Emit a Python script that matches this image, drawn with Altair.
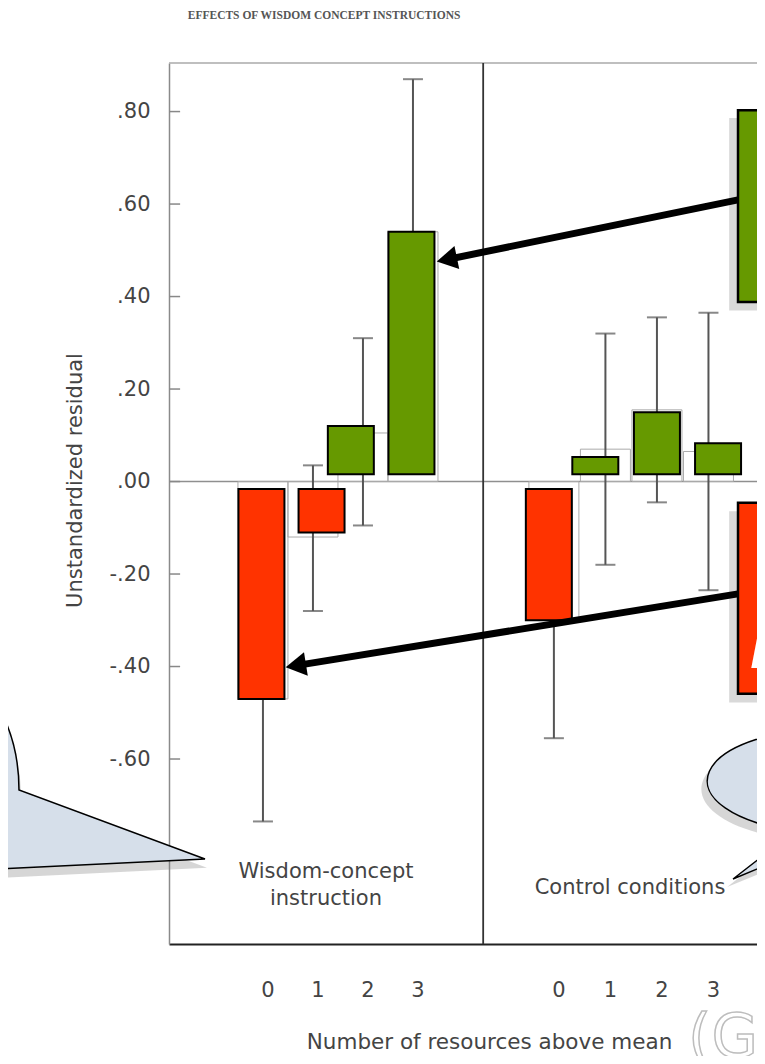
import altair as alt
import pandas as pd

# ---------------- data ----------------
resources = ["0", "1", "2", "3"]
panel_names = ["Wisdom-concept\ninstruction", "Control conditions"]

wisdom_mean = [-0.47, -0.12, 0.105, 0.54]
wisdom_lo = [-0.735, -0.28, -0.095, 0.215]
wisdom_hi = [-0.205, 0.035, 0.31, 0.87]

control_mean = [-0.30, 0.07, 0.155, 0.065]
control_lo = [-0.555, -0.18, -0.045, -0.235]
control_hi = [-0.045, 0.32, 0.355, 0.365]

# coloured overlay bars pasted on the slide
wisdom_highlight = [-0.47, -0.11, 0.12, 0.54]
control_highlight = [-0.30, 0.053, 0.15, 0.083]

y_tick_values = [-0.6, -0.4, -0.2, 0.0, 0.2, 0.4, 0.6, 0.8]

title_text = "EFFECTS OF WISDOM CONCEPT INSTRUCTIONS"
x_title = "Number of resources above mean"
y_title = "Unstandardized residual"

# ---------------- layout constants ----------------
W, H = 588, 881
X_DOMAIN = [0, 11.641]
Y_DOMAIN = [-1.0, 0.905]
PANEL_START = [1.86, 7.62]
PANEL_STEP = [0.99, 1.02]
DIVIDER_X = 6.22
HILITE_NUDGE = [[-0.03, 0.17, -0.24, -0.03], [-0.10, -0.20, 0.0, 0.19]]
BAR_GAP = 0.016
TICKLABEL_Y = -1.115
PANEL_LABEL_X = [3.108, 9.127]
PANEL_LABEL_Y = [-0.857, -0.892]

GREEN = "#669900"
RED = "#ff3300"
TXT = "#444444"
FONT = "DejaVu Sans"

xs = alt.Scale(domain=X_DOMAIN, nice=False, zero=False, padding=0)
ys = alt.Scale(domain=Y_DOMAIN, nice=False, zero=False, padding=0)

x_axis = alt.Axis(labels=False, ticks=False, grid=False, domainColor="#222222",
                  domainWidth=2, title=x_title, titleFont=FONT, titleFontSize=21.5,
                  titleFontWeight="normal", titleColor=TXT, titleX=320, titleY=104,
                  titleAlign="center", titleBaseline="alphabetic")
y_axis = alt.Axis(values=y_tick_values,
                  labelExpr="replace(replace(format(datum.value, '.2f'), '0.', '.'), '\u2212', '-')",
                  labelFont=FONT, labelFontSize=21, labelColor=TXT, labelPadding=19,
                  ticks=False, grid=False, domainColor="#8a8a8a", domainWidth=1.5,
                  title=y_title, titleFont=FONT, titleFontSize=21,
                  titleFontWeight="normal", titleColor=TXT, titleX=-94, titleY=417,
                  titleAngle=270, titleAlign="center", titleBaseline="middle")


def X(f):
    return alt.X(f, type="quantitative", scale=xs, axis=x_axis)


def Y(f):
    return alt.Y(f, type="quantitative", scale=ys, axis=y_axis)


rows = []
for p, (means, los, his, hil) in enumerate([
    (wisdom_mean, wisdom_lo, wisdom_hi, wisdom_highlight),
    (control_mean, control_lo, control_hi, control_highlight),
]):
    for i, r in enumerate(resources):
        pos = PANEL_START[p] + i * PANEL_STEP[p]
        rows.append(dict(
            panel=p, res=r, pos=pos, mean=means[i], lo=los[i], hi=his[i],
            zero=0.0, hval=hil[i], hpos=pos + HILITE_NUDGE[p][i],
            base=BAR_GAP if hil[i] > 0 else -BAR_GAP,
            sign="pos" if hil[i] > 0 else "neg", ty=TICKLABEL_Y,
        ))
bars = pd.DataFrame(rows)

# ---------------- frame ----------------
zero_df = pd.DataFrame({"x0": [X_DOMAIN[0]], "x1": [X_DOMAIN[1]], "y0": [0.0]})
zero_line = alt.Chart(zero_df).mark_rule(color="#8f8f8f", strokeWidth=1.5).encode(
    x=X("x0"), x2="x1", y=Y("y0"))

top_df = pd.DataFrame({"x0": [X_DOMAIN[0]], "x1": [X_DOMAIN[1]], "y0": [Y_DOMAIN[1]]})
top_line = alt.Chart(top_df).mark_rule(color="#aaaaaa", strokeWidth=1.5).encode(
    x=X("x0"), x2="x1", y=Y("y0"))

div_df = pd.DataFrame({"x0": [DIVIDER_X], "y0": [Y_DOMAIN[0]], "y1": [Y_DOMAIN[1]]})
divider = alt.Chart(div_df).mark_rule(color="#333333", strokeWidth=1.8).encode(
    x=X("x0"), y=Y("y0"), y2="y1")

ytick_df = pd.DataFrame({"v": y_tick_values, "x0": 0.0, "x1": 0.22})
yticks = alt.Chart(ytick_df).mark_rule(color="#888888", strokeWidth=1.5).encode(
    x=X("x0"), x2="x1", y=Y("v"))

# ---------------- data marks ----------------
base = alt.Chart(bars)
outlines = base.mark_bar(size=50, fillOpacity=0, stroke="#aaaaaa", strokeWidth=1).encode(
    x=X("pos"), y=Y("mean"), y2="zero")
err = base.mark_rule(color="#555555", strokeWidth=2).encode(
    x=X("pos"), y=Y("lo"), y2="hi")
cap_lo = base.mark_tick(orient="horizontal", size=20, thickness=2, color="#555555").encode(
    x=X("pos"), y=Y("lo"))
cap_hi = base.mark_tick(orient="horizontal", size=20, thickness=2, color="#555555").encode(
    x=X("pos"), y=Y("hi"))
hilite = base.mark_bar(size=46, stroke="black", strokeWidth=2, opacity=1).encode(
    x=X("hpos"), y=Y("hval"), y2="base",
    color=alt.Color("sign:N", scale=alt.Scale(domain=["neg", "pos"], range=[RED, GREEN]),
                    legend=None))

xlab = base.mark_text(font=FONT, fontSize=21, color=TXT, dx=5, baseline="alphabetic").encode(
    x=X("pos"), y=Y("ty"), text="res:N")

panel_df = pd.DataFrame({"name": panel_names, "x": PANEL_LABEL_X, "y": PANEL_LABEL_Y})
panel_text = alt.Chart(panel_df).mark_text(
    font=FONT, fontSize=21, color=TXT, align="center", baseline="alphabetic",
    lineBreak="\n", lineHeight=27).encode(x=X("x"), y=Y("y"), text="name:N")

title_df = pd.DataFrame({"t": [title_text], "x": [3.07], "y": [1.007]})
title = alt.Chart(title_df).mark_text(
    font="Liberation Serif", fontSize=11.5, fontWeight="bold", color="#555555",
    align="center", baseline="middle").encode(x=X("x"), y=Y("y"), text="t:N")

# ---------------- slide annotations ----------------
box_df = pd.DataFrame({
    "x0": [11.265, 11.265], "x1": [12.6, 12.6],
    "y0": [0.803, -0.046], "y1": [0.388, -0.459], "k": ["pos", "neg"]})
shadow_df = pd.DataFrame({
    "x0": [11.09, 11.09], "x1": [12.6, 12.6],
    "y0": [0.786, -0.064], "y1": [0.370, -0.478]})
shadows = alt.Chart(shadow_df).mark_rect(color="#777777", opacity=0.28).encode(
    x=X("x0"), x2="x1", y=Y("y0"), y2="y1")
boxes = alt.Chart(box_df).mark_rect(stroke="black", strokeWidth=2.5, opacity=1).encode(
    x=X("x0"), x2="x1", y=Y("y0"), y2="y1",
    color=alt.Color("k:N", scale=alt.Scale(domain=["neg", "pos"], range=[RED, GREEN]),
                    legend=None))

letter_df = pd.DataFrame({"t": ["L"], "x": [11.50], "y": [-0.403]})
letter = alt.Chart(letter_df).mark_text(
    font=FONT, fontSize=62, fontWeight="bold", fontStyle="italic", color="white",
    align="left", baseline="alphabetic").encode(x=X("x"), y=Y("y"), text="t:N")

arrow_df = pd.DataFrame({
    "arrow": ["g", "g", "r", "r"], "ord": [0, 1, 0, 1],
    "x": [11.265, 5.50, 11.265, 2.51], "y": [0.609, 0.480, -0.243, -0.398]})
arrow_lines = alt.Chart(arrow_df).mark_line(color="black", strokeWidth=7).encode(
    x=X("x"), y=Y("y"), detail="arrow:N", order="ord:Q")
head_df = pd.DataFrame({"x": [5.50, 2.51], "y": [0.480, -0.398], "ang": [258.4, 260.8]})
heads = alt.Chart(head_df).mark_point(
    shape="triangle-up", size=560, filled=True, color="black", opacity=1).encode(
    x=X("x"), y=Y("y"), angle=alt.Angle("ang:Q", scale=None))

LEFT_CALLOUT = ("M -0.6 -1.3 L -0.19 -0.80 Q 0 -0.45 0 0 L 1.86 0.69 "
                "L -0.19 0.79 L -0.6 0.81 Z")
RIGHT_CALLOUT = ("M -0.35 0.498 L -0.97 0.98 L 0.15 0.516 "
                 "A 1.23 0.52 0 1 0 -0.35 0.498 Z")
FILL = "#d6dfea"

lc_sh = alt.Chart(pd.DataFrame({"x": [-2.93], "y": [-0.686]})).mark_point(
    shape=LEFT_CALLOUT, size=40000, filled=True, color="#777777", opacity=0.3,
    strokeWidth=0).encode(x=X("x"), y=Y("y"))
lc = alt.Chart(pd.DataFrame({"x": [-2.970], "y": [-0.667]})).mark_point(
    shape=LEFT_CALLOUT, size=40000, filled=True, fill=FILL, stroke="black",
    strokeWidth=1.5, opacity=1).encode(x=X("x"), y=Y("y"))
rc_sh = alt.Chart(pd.DataFrame({"x": [12.97], "y": [-0.665]})).mark_point(
    shape=RIGHT_CALLOUT, size=40000, filled=True, color="#777777", opacity=0.3,
    strokeWidth=0).encode(x=X("x"), y=Y("y"))
rc = alt.Chart(pd.DataFrame({"x": [13.087], "y": [-0.6475]})).mark_point(
    shape=RIGHT_CALLOUT, size=40000, filled=True, fill=FILL, stroke="black",
    strokeWidth=1.5, opacity=1).encode(x=X("x"), y=Y("y"))

wm = alt.Chart(pd.DataFrame({"t": ["(GI"], "x": [10.275], "y": [-1.245]})).mark_text(
    font=FONT, fontSize=60, color="white", stroke="#bdbdbd", strokeWidth=1.5,
    align="left", baseline="alphabetic").encode(x=X("x"), y=Y("y"), text="t:N")

chart = alt.layer(
    zero_line, top_line, divider, yticks,
    outlines, err, cap_lo, cap_hi, hilite,
    xlab, panel_text, title,
    shadows, boxes, letter, arrow_lines, heads,
    lc_sh, lc, rc_sh, rc, wm,
).properties(
    width=W, height=H,
    autosize=alt.AutoSizeParams(type="none"),
    padding={"left": 161, "top": 55, "right": 0, "bottom": 112},
).configure_view(strokeWidth=0).configure_axis(grid=False)

chart.save("out.html", embed_options={"renderer": "svg", "actions": False})
